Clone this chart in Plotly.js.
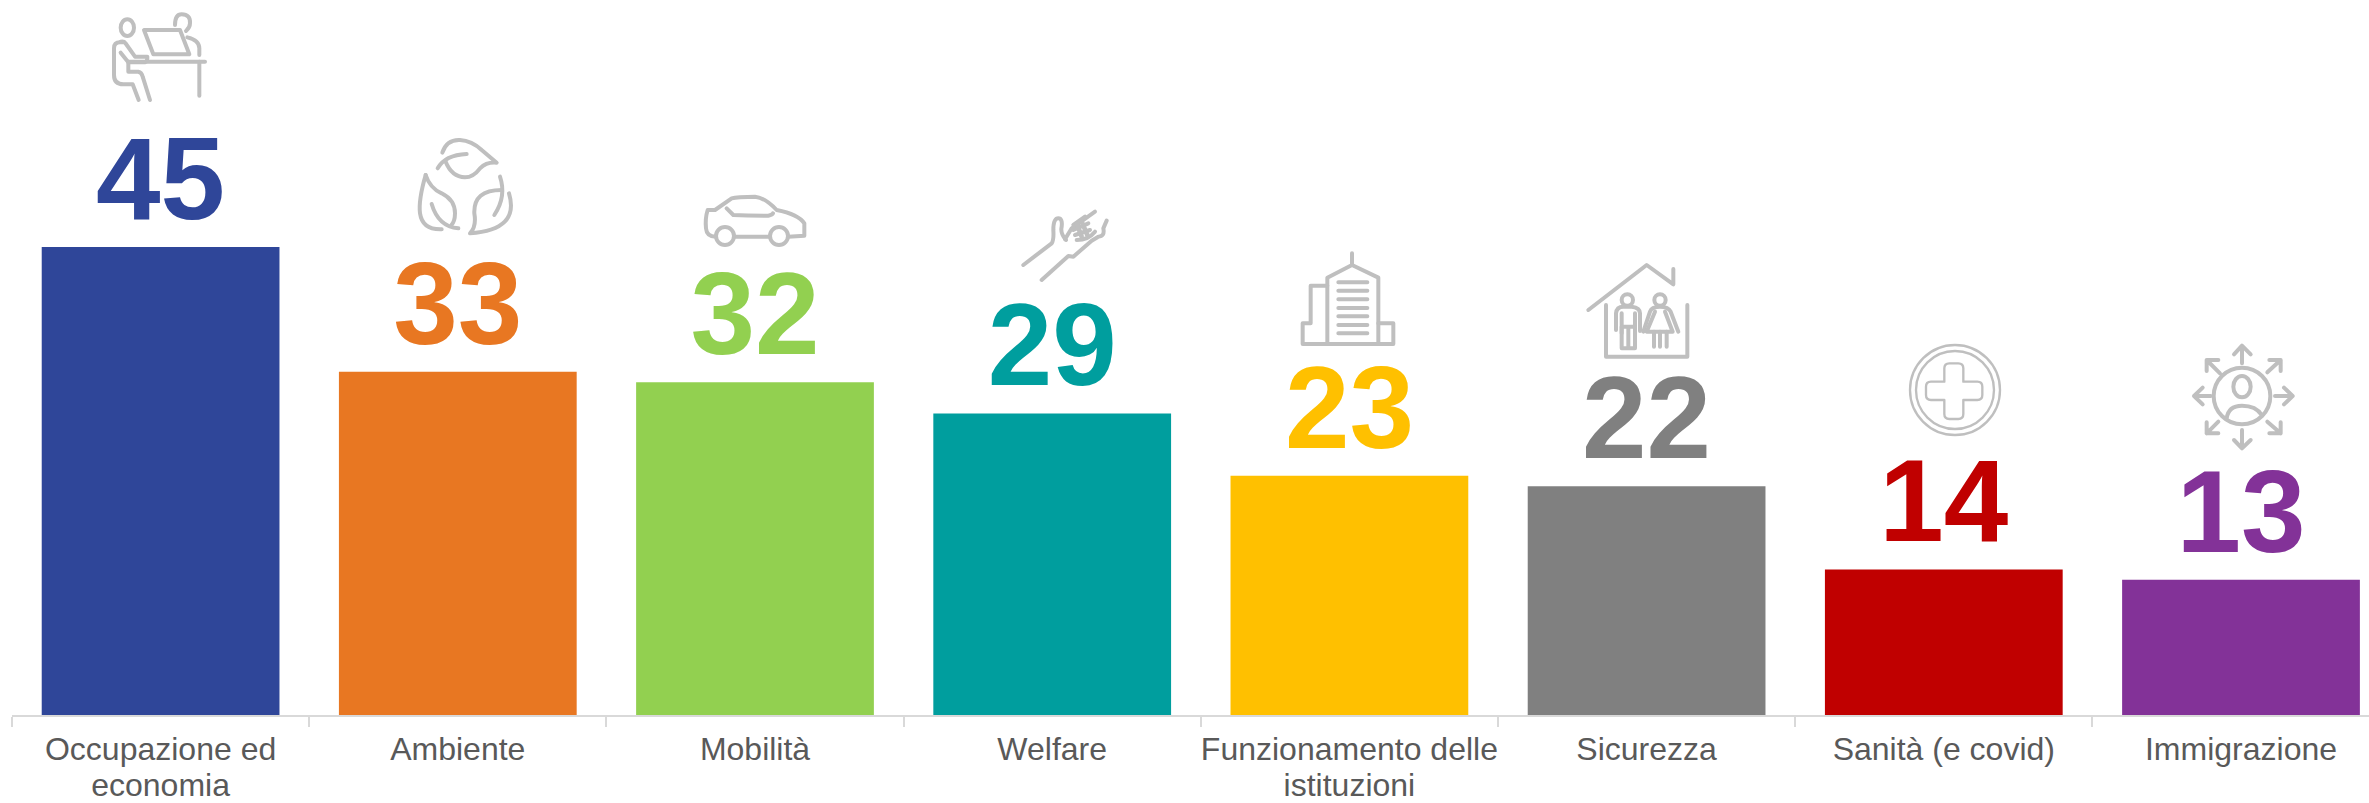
<!DOCTYPE html>
<html>
<head>
<meta charset="utf-8">
<script src="https://cdn.plot.ly/plotly-3.0.1.min.js"></script>
<style>html,body{margin:0;padding:0;background:#fff;overflow:hidden}#chart{width:2369px;height:803px}</style>
</head>
<body>
<div id="chart"></div>
<script>
const categories = ["Occupazione ed<br>economia","Ambiente","Mobilità","Welfare","Funzionamento delle<br>istituzioni","Sicurezza","Sanità (e covid)","Immigrazione"];
const values = [45,33,32,29,23,22,14,13];
const barColors = ["#2F4699","#E87722","#92D050","#009E9E","#FFC000","#808080","#C00000","#833298"];

const W = 2369, H = 803, ML = 12, MB = 88;
const PW = W - ML, PH = H - MB;

// Decorative pictograms: [left px, top px, height px at 120 px wide, stroke width in 3x units, svg body]
const icons = [
 [100,5,100,12,`<ellipse cx="82" cy="68" rx="20" ry="25"/><path d="M72 112H60Q42 112 42 130V210Q42 238 70 238H98L116 285"/><path d="M62 143L85 172H135Q143 170 142 155H105L76 114Q72 108 62 110"/><path d="M85 172V200H115Q125 202 128 215L150 285"/><path d="M132 75H240L268 148H160Z"/><path d="M225 60Q225 28 245 28Q272 28 270 55Q270 68 258 78"/><path d="M262 97Q298 105 298 130V150"/><path d="M85 170H315"/><path d="M298 170V272"/>`],
 [405,130,110,12,`<path d="M112 68Q125 28 165 30Q200 32 230 60L275 98Q245 95 225 115Q205 142 180 142Q140 140 122 95"/><path d="M98 115Q120 75 185 72"/><path d="M62 135Q40 210 45 250Q52 300 110 298"/><path d="M62 135Q75 175 110 190Q150 210 150 250Q150 275 138 287"/><path d="M80 222Q100 290 160 295"/><path d="M285 140Q305 200 268 255"/><path d="M312 190Q345 300 195 310Q215 290 208 250Q205 180 290 180"/>`],
 [695,185,65,12,`<path d="M45 75H38Q30 100 33 130Q35 155 62 155"/><path d="M45 75H60L110 40Q125 35 180 35Q210 38 245 75Q310 88 328 115V152L280 155"/><path d="M118 155H225"/><circle cx="90" cy="153" r="27"/><circle cx="252" cy="153" r="27"/><path d="M95 70L115 90Q160 92 220 92Q232 90 234 85"/>`],
 [1010,200,90,12,`<path d="M40 195L125 130Q132 120 130 90Q130 55 145 55Q158 55 155 80Q150 100 168 120"/><path d="M165 118L185 85L255 35"/><path d="M95 240L175 168L190 170L245 122L265 110Q285 110 280 85L290 62"/><path d="M190 75L225 50M190 90L235 70M195 105L240 90M200 120Q235 120 255 95"/><path d="M200 70L215 110M215 65L232 105" stroke-width="14"/>`],
 [1290,245,105,12,`<path d="M186 25V60"/><path d="M112 295V98L186 60L265 98V295"/><path d="M112 122H62V235H38V297H310V235H265"/><path d="M145 112H232M145 137H232M145 163H232M145 189H232M145 214H232M145 240H232M145 265H232"/>`],
 [1580,255,110,12,`<path d="M25 165L200 30L280 88V42"/><path d="M78 150V305H322V150"/><circle cx="142" cy="135" r="17"/><path d="M108 225V175Q110 155 130 155H155Q180 158 180 175V228"/><path d="M125 175V235M165 175V235"/><path d="M125 215H165V280H125ZM145 215V280"/><circle cx="240" cy="135" r="17"/><path d="M190 230L210 170Q215 155 240 155Q265 155 272 170L295 230"/><path d="M225 170L200 230H278L255 170"/><path d="M222 230V275M240 230V275M260 230V275"/>`],
 [1890,335,110,7,`<circle cx="195" cy="165" r="135"/><circle cx="195" cy="165" r="117"/><path d="M163 100Q163 85 178 85H205Q220 85 220 100V140H262Q277 140 277 155V180Q277 195 262 195H220V237Q220 252 205 252H178Q163 252 163 237V195H123Q108 195 108 180V155Q108 140 123 140H163Z"/>`],
 [2180,335,120,12,`<circle cx="186" cy="183" r="85"/><ellipse cx="186" cy="155" rx="26" ry="32"/><path d="M140 250Q145 212 186 212Q228 212 245 240"/><path d="M186 85V35M162 58L186 32L212 58"/><path d="M186 285V340M162 315L186 340L212 315"/><path d="M92 183H42M68 158L42 183L68 208"/><path d="M285 183H335M312 158L338 183L312 208"/><path d="M120 115L80 75M80 108V75H115"/><path d="M262 112L302 75M268 75H302V108"/><path d="M115 260L80 295M80 262V295H115"/><path d="M262 260L302 295M268 295H302V262"/>`]
];

const images = icons.map(([x, y, h, sw, body]) => {
  const svg = `<svg xmlns="http://www.w3.org/2000/svg" width="120" height="${h}" viewBox="0 0 360 ${h*3}"><g fill="none" stroke="#BFBFBF" stroke-width="${sw}" stroke-linecap="round" stroke-linejoin="round">${body}</g></svg>`;
  return {
    source: "data:image/svg+xml;base64," + btoa(svg),
    xref: "paper", yref: "paper",
    x: (x - ML) / PW, y: 1 - y / PH,
    sizex: 120 / PW, sizey: h / PH,
    xanchor: "left", yanchor: "top",
    sizing: "stretch", layer: "above"
  };
});

const trace = {
  type: "bar",
  x: categories,
  y: values,
  text: values.map(String),
  textposition: "outside",
  constraintext: "none",
  cliponaxis: false,
  textfont: {family: "Liberation Sans, Arial, sans-serif", size: 116, color: barColors, weight: 700},
  marker: {color: barColors, line: {width: 0}},
  hoverinfo: "x+y"
};

const layout = {
  width: W, height: H,
  margin: {l: ML, r: 0, t: 0, b: MB, pad: 0},
  paper_bgcolor: "#fff", plot_bgcolor: "#fff",
  showlegend: false,
  bargap: 0.2,
  font: {family: "Liberation Sans, Arial, sans-serif", color: "#595959"},
  xaxis: {
    type: "category",
    categoryorder: "array", categoryarray: categories,
    range: [-0.5, -0.5 + PW / 297.2],
    tickson: "boundaries",
    ticks: "outside", ticklen: 10, tickwidth: 2, tickcolor: "#D9D9D9",
    showline: true, linecolor: "#D9D9D9", linewidth: 2,
    showgrid: false, zeroline: false,
    tickangle: 0,
    ticklabelstandoff: 5,
    tickfont: {family: "Liberation Sans, Arial, sans-serif", size: 32, color: "#595959"},
    automargin: false
  },
  yaxis: {range: [0, 715 / 10.4], visible: false, fixedrange: true},
  images: images
};

Plotly.newPlot("chart", [trace], layout, {displayModeBar: false, staticPlot: true}).then(() => {
  // tighten the wrapped tick labels' line spacing to match the reference
  document.querySelectorAll(".xtick text tspan.line").forEach(t => {
    const dy = parseFloat(t.getAttribute("dy") || "0");
    if (dy > 0) t.setAttribute("dy", "1.1em");
  });
});
</script>
</body>
</html>
